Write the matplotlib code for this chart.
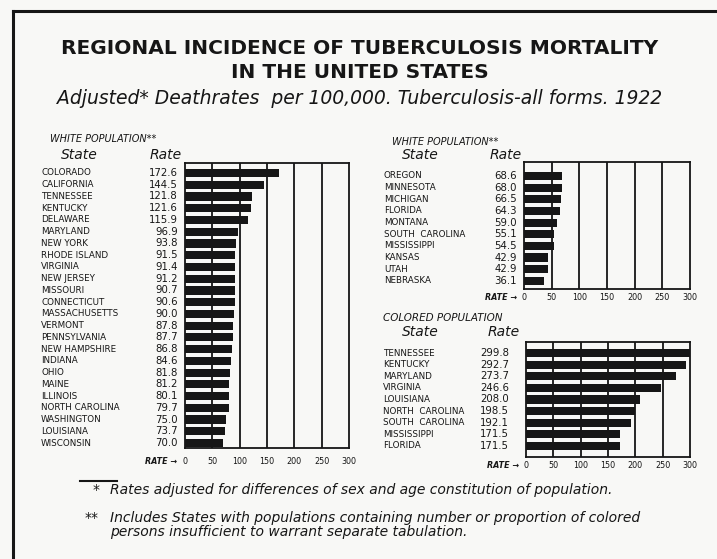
import matplotlib
matplotlib.use("Agg")
import matplotlib.pyplot as plt
from matplotlib.lines import Line2D
from matplotlib import transforms

# Tuberculosis death rates per 100,000, 1922 (adjusted)
white_states_a = ["COLORADO", "CALIFORNIA", "TENNESSEE", "KENTUCKY", "DELAWARE",
                  "MARYLAND", "NEW YORK", "RHODE ISLAND", "VIRGINIA", "NEW JERSEY",
                  "MISSOURI", "CONNECTICUT", "MASSACHUSETTS", "VERMONT",
                  "PENNSYLVANIA", "NEW HAMPSHIRE", "INDIANA", "OHIO", "MAINE",
                  "ILLINOIS", "NORTH CAROLINA", "WASHINGTON", "LOUISIANA",
                  "WISCONSIN"]
white_rates_a = [172.6, 144.5, 121.8, 121.6, 115.9, 96.9, 93.8, 91.5, 91.4, 91.2,
                 90.7, 90.6, 90.0, 87.8, 87.7, 86.8, 84.6, 81.8, 81.2, 80.1,
                 79.7, 75.0, 73.7, 70.0]

white_states_b = ["OREGON", "MINNESOTA", "MICHIGAN", "FLORIDA", "MONTANA",
                  "SOUTH  CAROLINA", "MISSISSIPPI", "KANSAS", "UTAH", "NEBRASKA"]
white_rates_b = [68.6, 68.0, 66.5, 64.3, 59.0, 55.1, 54.5, 42.9, 42.9, 36.1]

colored_states = ["TENNESSEE", "KENTUCKY", "MARYLAND", "VIRGINIA", "LOUISIANA",
                  "NORTH  CAROLINA", "SOUTH  CAROLINA", "MISSISSIPPI", "FLORIDA"]
colored_rates = [299.8, 292.7, 273.7, 246.6, 208.0, 198.5, 192.1, 171.5, 171.5]

rate_ticks = [0, 50, 100, 150, 200, 250, 300]

W, H = 717, 559
INK = "#161616"
BG = "#f8f8f6"
plt.rcParams["font.family"] = ["DejaVu Sans"]

fig = plt.figure(figsize=(W / 100, H / 100), dpi=100, facecolor=BG)


def fx(x):
    return x / W


def fy(y):
    return 1 - y / H


def put(x, y, s, **kw):
    kw.setdefault("va", "center")
    kw.setdefault("color", INK)
    fig.text(fx(x), fy(y), s, **kw)


def panel(box, states, rates, ylim, name_x, rate_x, tick_y, rate_lbl_x):
    x0, y0, x1, y1 = box
    ax = fig.add_axes([fx(x0), fy(y1), (x1 - x0) / W, (y1 - y0) / H])
    ax.set_facecolor("none")
    rows = list(range(len(states)))
    ax.barh(rows, rates, height=0.7, color=INK, zorder=3)
    ax.set_xlim(0, 300)
    ax.set_ylim(*ylim)
    for t in rate_ticks[1:-1]:
        ax.axvline(t, color=INK, lw=1.3, zorder=1)
    for s in ax.spines.values():
        s.set_color(INK)
        s.set_linewidth(1.3)
    ax.set_yticks([])
    ax.set_xticks([])
    # state names and values follow the bar rows
    tr = transforms.blended_transform_factory(fig.transFigure, ax.transData)
    for i, (st, r) in enumerate(zip(states, rates)):
        ax.text(fx(name_x), i, st, transform=tr, ha="left", va="center",
                fontsize=6.3, color=INK, clip_on=False)
        ax.text(fx(rate_x), i, f"{r:.1f}", transform=tr, ha="right",
                va="center", fontsize=7.3, color=INK, clip_on=False)
    # rate scale under the box
    trx = transforms.blended_transform_factory(ax.transData, fig.transFigure)
    for t in rate_ticks:
        ax.text(t, fy(tick_y), str(t), transform=trx, ha="center",
                va="center", fontsize=5.8, color=INK, clip_on=False)
    put(rate_lbl_x, tick_y, "RATE \u2192", ha="right", fontsize=5.8,
        style="italic", weight="bold")
    return ax


# left panel: white population, higher rates
panel((185, 163, 349, 448), white_states_a, white_rates_a, (23.42, -0.85),
      41, 178, 461, 177)
put(50, 139, "WHITE POPULATION**", fontsize=7, style="italic")
put(61, 155, "State", fontsize=10, style="italic")
put(150, 155, "Rate", fontsize=10, style="italic")

# right top panel: white population, lower rates
panel((524, 162, 690, 289), white_states_b, white_rates_b, (9.7, -1.2),
      384, 517, 298, 517)
put(392, 142, "WHITE POPULATION**", fontsize=7, style="italic")
put(402, 155, "State", fontsize=10, style="italic")
put(490, 155, "Rate", fontsize=10, style="italic")

# right bottom panel: colored population
panel((526, 342, 690, 457), colored_states, colored_rates, (8.95, -0.95),
      383, 509, 466, 519)
put(383, 318, "COLORED POPULATION", fontsize=7.5, style="italic")
put(402, 332, "State", fontsize=10, style="italic")
put(488, 332, "Rate", fontsize=10, style="italic")

# titles
put(360, 48, "REGIONAL INCIDENCE OF TUBERCULOSIS MORTALITY", ha="center",
    fontsize=14.5, weight="bold")
put(360, 72, "IN THE UNITED STATES", ha="center", fontsize=14.5, weight="bold")
put(360, 99, "Adjusted* Deathrates  per 100,000. Tuberculosis-all forms. 1922",
    ha="center", fontsize=13.5, style="italic")

# footnotes
fig.add_artist(Line2D([fx(80), fx(117)], [fy(481), fy(481)], color=INK, lw=1.5))
put(96, 490, "*", ha="center", fontsize=10)
put(110, 490, "Rates adjusted for differences of sex and age constitution of population.",
    fontsize=10, style="italic")
put(92, 518, "**", ha="center", fontsize=10)
put(110, 518, "Includes States with populations containing number or proportion of colored",
    fontsize=10, style="italic")
put(110, 532, "persons insufficient to warrant separate tabulation.",
    fontsize=10, style="italic")

# outer frame (top and left edges)
fig.add_artist(Line2D([fx(13), 1.0], [fy(11), fy(11)], color=INK, lw=2.2))
fig.add_artist(Line2D([fx(13), fx(13)], [fy(11), 0.0], color=INK, lw=2.2))

fig.savefig("out.png", dpi=100, facecolor=BG)
